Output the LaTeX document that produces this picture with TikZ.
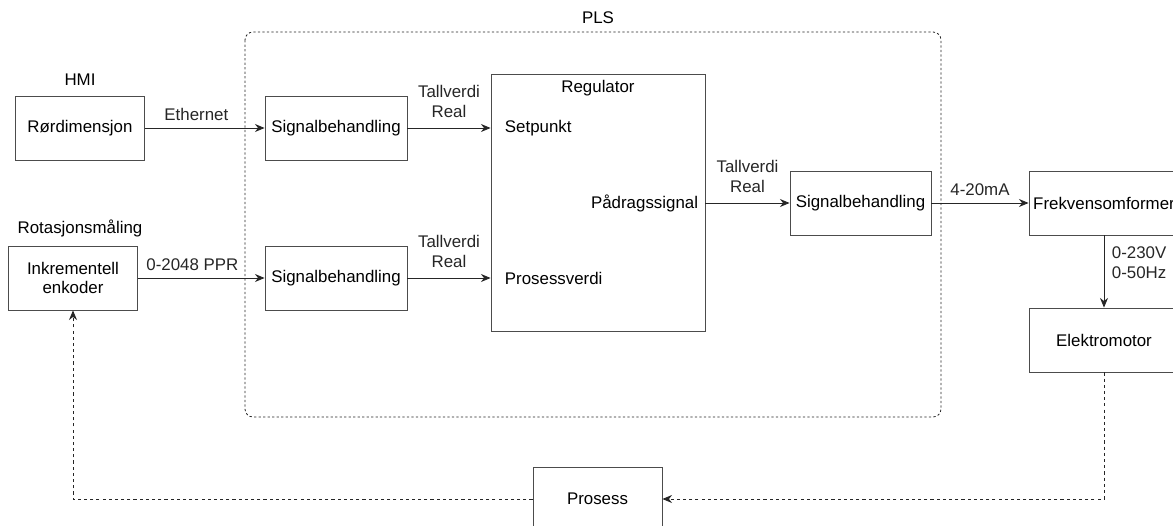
\documentclass[tikz,border=0pt]{standalone}
\usepackage{fontspec}
\setmainfont{Liberation Sans}
\usetikzlibrary{arrows.meta}

\tikzset{
  blokk/.style={draw=black!70, line width=0.6pt, minimum width=3.225cm, minimum height=1.6cm, inner sep=0pt, align=center},
  pil/.style={-{Stealth[length=2.4mm,width=2mm]}, line width=0.6pt, black!85},
  tilbake/.style={pil, dash pattern=on 2.2pt off 2.2pt},
  merke/.style={align=center, inner sep=2pt, yshift=3pt}
}

\begin{document}
\begin{tikzpicture}[x=0.025cm, y=-0.025cm, font=\fontsize{12}{14}\selectfont]

\useasboundingbox (0,0) rectangle (1173,526);
\clip (0,0) rectangle (1173,526);

% PLS
\draw[black!85, line width=0.6pt, dash pattern=on 1.6pt off 1.6pt, rounded corners=2mm] (245,32) rectangle (941,417);
\node (pls) at (598,18) {PLS};

% inngang
\node (hmi) at (80,80) {HMI};
\node[blokk] (rordim) at (80,128) {Rørdimensjon};
\node (rotasjon) at (80,228) {Rotasjonsmåling};
\node[blokk] (enkoder) at (73,278) {Inkrementell\\enkoder};

\node[blokk, minimum width=3.55cm] (sig1) at (336,128) {Signalbehandling};
\node[blokk, minimum width=3.55cm] (sig2) at (336,278) {Signalbehandling};

% regulator
\node[blokk, minimum width=5.35cm, minimum height=6.425cm] (reg) at (598,202.5) {};
\node (regnavn) at (598,88) {Regulator};
\node[anchor=west] (setpunkt) at (500,128) {Setpunkt};
\node[anchor=west] (prosessverdi) at (500,278) {Prosessverdi};
\node[anchor=east] (paadrag) at (703,203) {Pådragssignal};

% utgang
\node[blokk, minimum width=3.525cm] (sig3) at (860.5,203) {Signalbehandling};
\node[blokk, minimum width=3.75cm] (frek) at (1104,203) {Frekvensomformer};
\node[blokk, minimum width=3.75cm] (motor) at (1104,340) {Elektromotor};
\node[blokk] (prosess) at (597.5,499) {Prosess};

\draw[pil] (rordim) -- node[merke, above, pos=0.43] {Ethernet} (sig1);
\draw[pil] (enkoder) -- node[merke, above, pos=0.43] {0-2048 PPR} (sig2);
\draw[pil] (sig1) -- node[merke, above, yshift=2pt] {Tallverdi\\Real} (reg.west |- sig1);
\draw[pil] (sig2) -- node[merke, above, yshift=2pt] {Tallverdi\\Real} (reg.west |- sig2);
\draw[pil] (reg.east |- sig3) -- node[merke, above, yshift=2pt] {Tallverdi\\Real} (sig3);
\draw[pil] (sig3) -- node[merke, above] {4-20mA} (frek);
\draw[pil] (frek) -- node[align=left, right, pos=0.38, xshift=2pt] {0-230V\\0-50Hz} (motor);

% tilbakekobling
\draw[tilbake] (motor.south) |- (prosess.east);
\draw[tilbake] (prosess.west) -| (enkoder.south);

\end{tikzpicture}
\end{document}
